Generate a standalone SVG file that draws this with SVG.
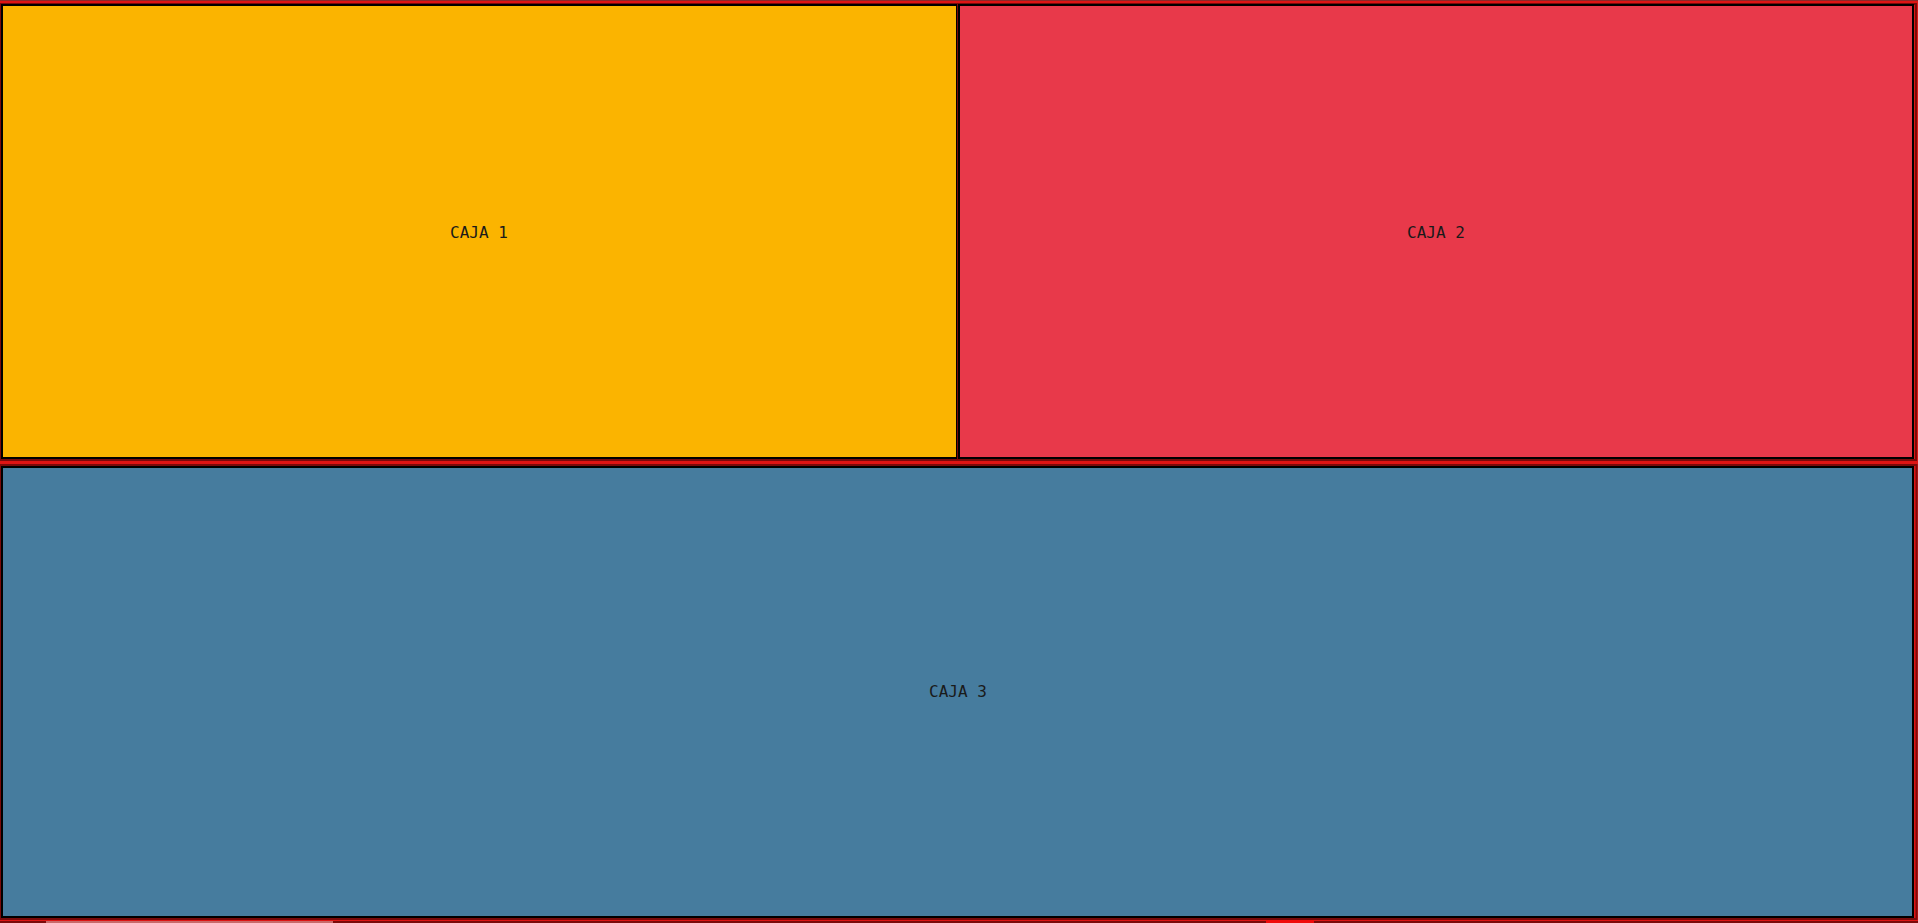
<svg xmlns="http://www.w3.org/2000/svg" width="1918" height="923" viewBox="0 0 1918 923">
<style>
.box{stroke:#000;stroke-width:2}
.halo{fill:none;stroke:#7a0a0a;stroke-width:2}
.lbl{font-family:"DejaVu Sans Mono","Liberation Mono",monospace;font-size:16px;fill:#1a1a1a;text-anchor:middle}
</style>
<rect x="0" y="0" width="1918" height="923" fill="#de1414"/>
<rect x="0" y="0" width="1918" height="1" fill="#8a2a2a"/>
<rect x="0" y="921" width="1918" height="2" fill="#7a0a0a"/>
<rect x="46" y="921" width="287" height="2" fill="#c86a6a"/>
<rect x="1266" y="920" width="48" height="3" fill="#f00a0a"/>
<g id="caja1">
<rect class="halo" x="0.5" y="4" width="958" height="456"/>
<rect class="box" x="2" y="5" width="955" height="453" fill="#fbb400"/>
<text class="lbl" x="479" y="238">CAJA 1</text>
</g>
<g id="caja2">
<rect class="halo" x="958" y="4" width="958" height="456"/>
<rect class="box" x="959" y="5" width="954" height="453" fill="#e8394a"/>
<text class="lbl" x="1436" y="238">CAJA 2</text>
</g>
<g id="caja3">
<rect class="halo" x="0.5" y="465" width="1916" height="454"/>
<rect class="box" x="2" y="467" width="1911" height="450" fill="#467c9e"/>
<text class="lbl" x="958" y="697">CAJA 3</text>
</g>
<g id="connectors"/>
</svg>
